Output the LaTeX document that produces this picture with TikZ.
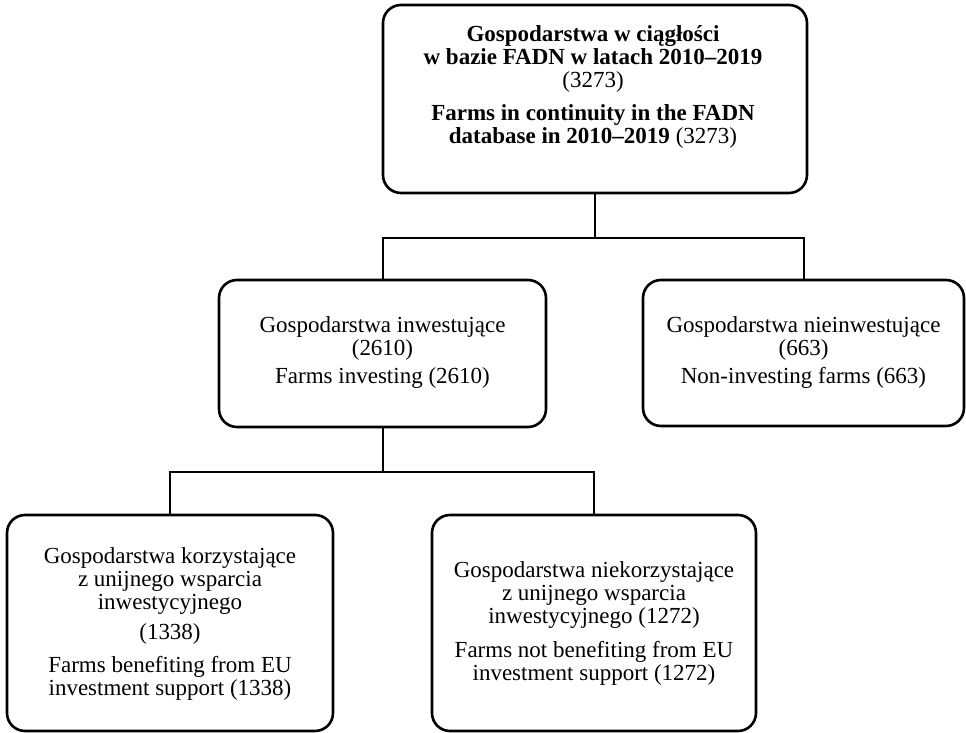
\documentclass[tikz,border=0pt]{standalone}
\usepackage{fontspec}
\setmainfont{Liberation Serif}

\begin{document}
\begin{tikzpicture}[x=0.5pt, y=-0.5pt, semithick,
        box/.style={draw, rounded corners=9pt, line width=1.3pt},
        txt/.style={align=center, anchor=north, inner sep=0pt, font=\fontsize{11.5}{11.5}\selectfont},
        link/.style={line width=1pt}]
            \useasboundingbox (0, 0) rectangle (966, 733);
            \node[box, minimum width=212pt, minimum height=94pt] (top) at (595, 99) {};
            \node[box, minimum width=163.5pt, minimum height=73.5pt] (inv) at (382.5, 353.5) {};
            \node[box, minimum width=160.5pt, minimum height=73pt] (noninv) at (803.5, 353) {};
            \node[box, minimum width=163pt, minimum height=108pt] (eu) at (170, 623) {};
            \node[box, minimum width=162pt, minimum height=108pt] (noneu) at (594, 623) {};
            \node[txt] (topText) at (593, 25)
                {\textbf{Gospodarstwa w ciągłości}\\\textbf{w bazie FADN w latach 2010–2019}\\(3273)\\[5pt]\textbf{Farms in continuity in the FADN}\\\textbf{database in 2010–2019} (3273)};
            \node[txt, font=\fontsize{11.5}{10}\selectfont] (invText) at (382.5, 316)
                {Gospodarstwa inwestujące\\(2610)\\[2.5pt]Farms investing (2610)};
            \node[txt, font=\fontsize{11.5}{10}\selectfont] (noninvText) at (803.5, 316)
                {Gospodarstwa nieinwestujące\\(663)\\[2.5pt]Non-investing farms (663)};
            \node[txt] (euText) at (170, 547)
                {Gospodarstwa korzystające\\z unijnego wsparcia\\inwestycyjnego\\[3.5pt](1338)\\[5pt]Farms benefiting from EU\\investment support (1338)};
            \node[txt] (noneuText) at (594, 561)
                {Gospodarstwa niekorzystające\\z unijnego wsparcia\\inwestycyjnego (1272)\\[5.5pt]Farms not benefiting from EU\\investment support (1272)};
            \draw[link] (top.south) -- ++(0, 44) coordinate (fork1);
            \draw[link] (inv.north) |- (fork1) -| (noninv.north);
            \draw[link] (inv.south) -- ++(0, 44) coordinate (fork2);
            \draw[link] (eu.north) |- (fork2) -| (noneu.north);
        \end{tikzpicture}
\end{document}
